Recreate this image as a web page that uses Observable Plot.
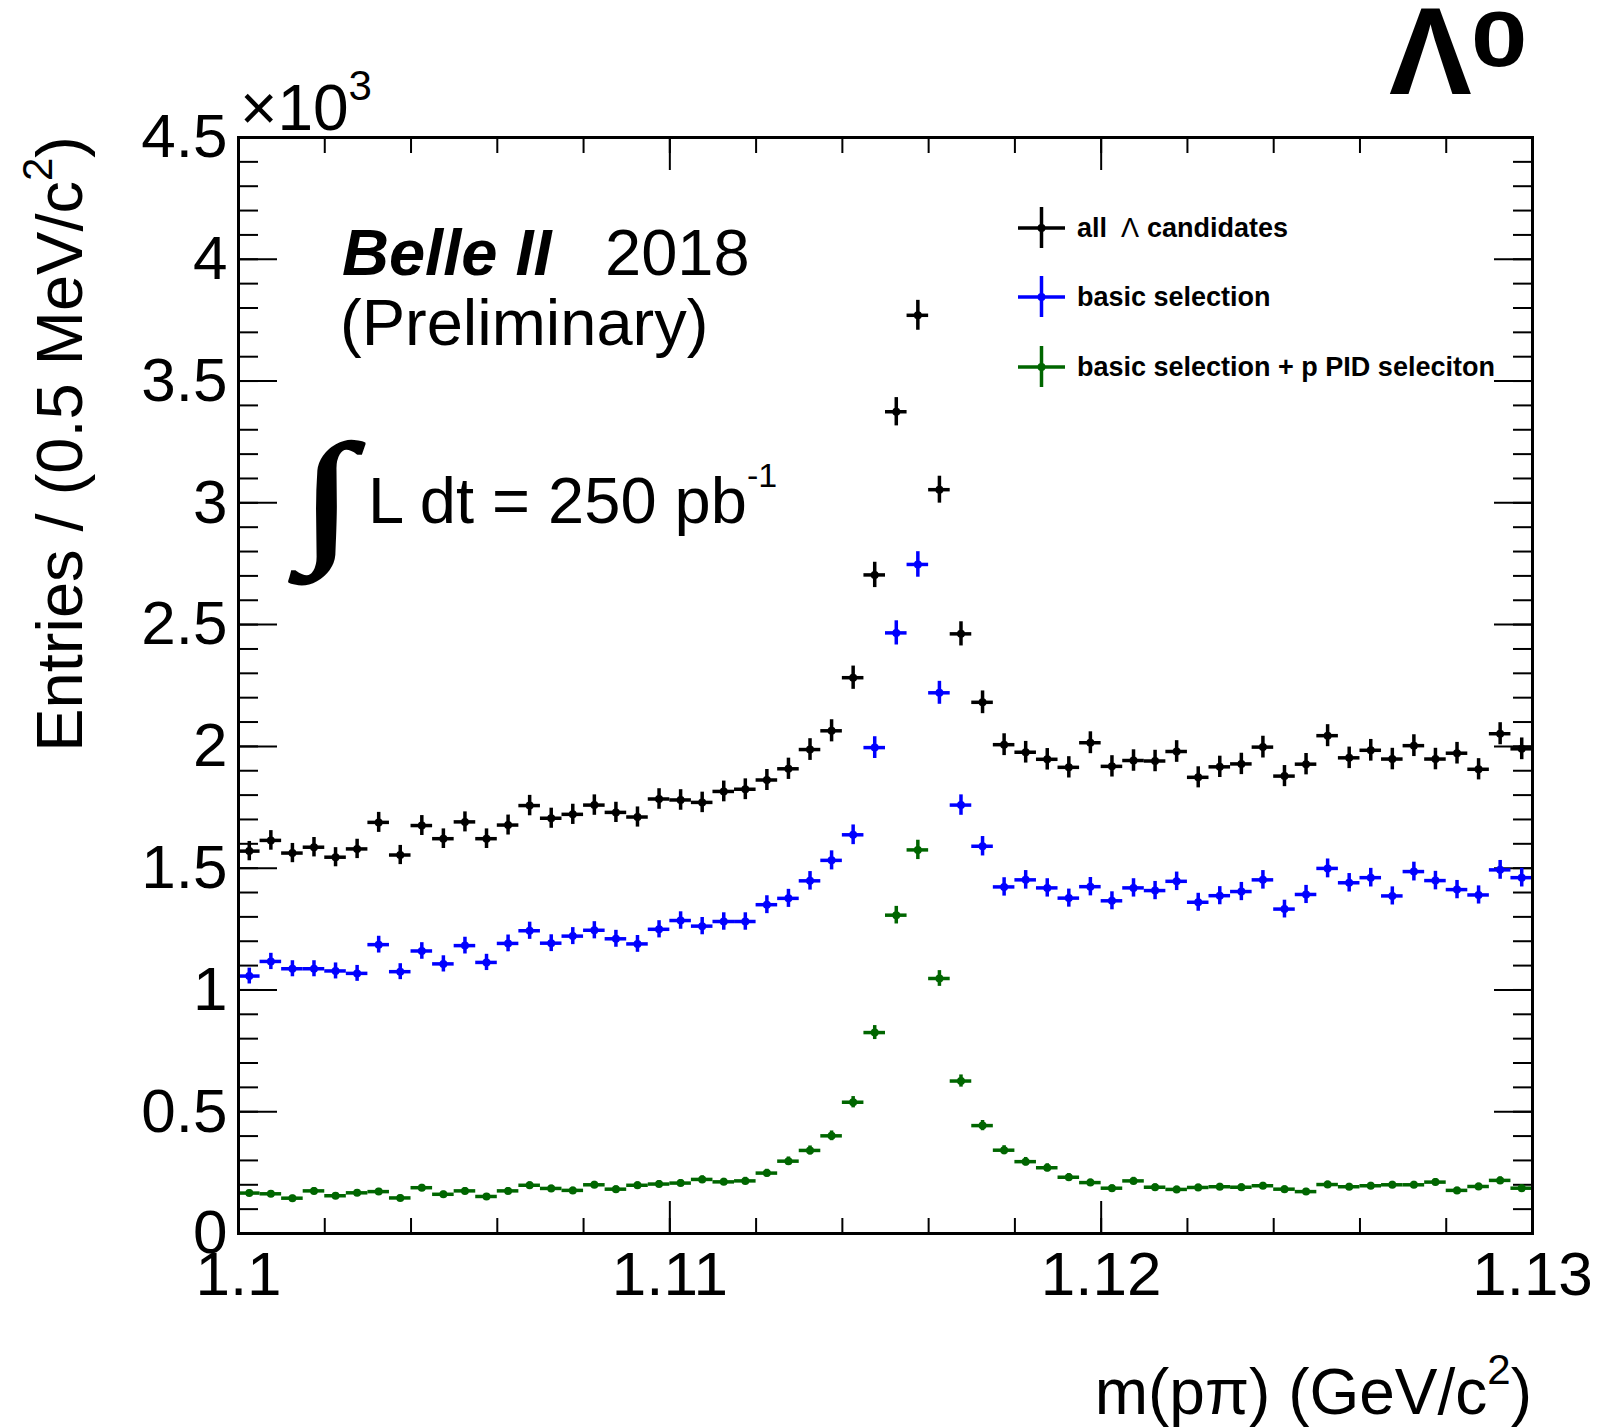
<!DOCTYPE html>
<html><head><meta charset="utf-8">
<script src="https://cdn.jsdelivr.net/npm/d3@7"></script>
<script src="https://cdn.jsdelivr.net/npm/@observablehq/plot@0.6"></script>
<style>
body{margin:0;background:#fff}
svg{display:block}
</style>
</head><body><div id="chart"></div>
<script>
// ---- data ----
const binStart = 1.1, binWidth = 0.0005, nBins = 60;
const binCenters = d3.range(nBins).map(i => +(binStart + (i + 0.5) * binWidth).toFixed(5));
const allCandidates = [1570,1614,1562,1586,1545,1579,1688,1554,1675,1621,1690,1621,1677,1757,1705,1721,1759,1729,1710,1784,1780,1770,1815,1824,1862,1908,1987,2064,2282,2704,3374,3770,3054,2462,2181,2007,1976,1947,1914,2015,1918,1942,1940,1979,1873,1916,1928,1997,1878,1927,2044,1953,1984,1948,2003,1948,1972,1906,2052,1990];
const basicSelection = [1057,1117,1087,1087,1078,1068,1186,1075,1160,1107,1182,1113,1191,1243,1192,1221,1245,1210,1189,1249,1285,1262,1281,1281,1350,1376,1448,1532,1637,1995,2466,2747,2220,1759,1590,1423,1452,1419,1377,1424,1366,1419,1408,1446,1360,1387,1404,1452,1332,1392,1499,1440,1461,1386,1486,1449,1412,1390,1493,1461];
const basicPlusPID = [166,163,145,175,155,167,172,146,188,161,175,152,175,198,185,177,200,182,198,203,207,222,212,216,248,297,341,401,539,825,1307,1575,1047,626,443,342,295,270,231,209,186,216,190,181,189,192,190,196,182,172,201,192,196,200,200,211,177,193,218,186];
const seriesNames = ["all Λ candidates", "basic selection", "basic selection + p PID seleciton"];
const seriesColors = ["#000000", "#0000ff", "#006600"];
const yMajorTicks = [0,500,1000,1500,2000,2500,3000,3500,4000,4500];
const yMinorTicks = d3.range(0, 4501, 100);
const xMajorTicks = [1.1, 1.11, 1.12, 1.13];
const xMinorTicks = d3.range(0, 16).map(i => +(1.1 + i * 0.002).toFixed(4));

const seriesValues = [allCandidates, basicSelection, basicPlusPID];
const rows = [];
seriesValues.forEach((vals, s) => vals.forEach((v, i) => rows.push({
  s: seriesNames[s], x: binCenters[i],
  lo: binCenters[i] - binWidth / 2, hi: binCenters[i] + binWidth / 2,
  v, err: Math.sqrt(v)
})));

const FONT = "'Liberation Sans', Arial, Helvetica, sans-serif";
const W = 1604, H = 1428;

const plot = Plot.plot({
  width: W, height: H,
  marginLeft: 238, marginRight: 72, marginTop: 137, marginBottom: 195,
  style: {fontFamily: FONT, background: "#fff", color: "#000", overflow: "visible"},
  x: {domain: [1.1, 1.13], axis: null},
  y: {domain: [0, 4500], axis: null},
  color: {domain: seriesNames, range: seriesColors},
  marks: [
    // inner ticks
    Plot.axisY({ticks: yMinorTicks, anchor: "left", tickSize: -20, fill: "none", strokeWidth: 2}),
    Plot.axisY({ticks: yMajorTicks, anchor: "left", tickSize: -39, fill: "none", strokeWidth: 2}),
    Plot.axisY({ticks: yMinorTicks, anchor: "right", tickSize: -20, fill: "none", strokeWidth: 2}),
    Plot.axisY({ticks: yMajorTicks, anchor: "right", tickSize: -39, fill: "none", strokeWidth: 2}),
    Plot.axisX({ticks: xMinorTicks, anchor: "bottom", tickSize: -15, fill: "none", strokeWidth: 2}),
    Plot.axisX({ticks: xMajorTicks, anchor: "bottom", tickSize: -32, fill: "none", strokeWidth: 2}),
    Plot.axisX({ticks: xMinorTicks, anchor: "top", tickSize: -15, fill: "none", strokeWidth: 2}),
    Plot.axisX({ticks: xMajorTicks, anchor: "top", tickSize: -32, fill: "none", strokeWidth: 2}),
    // tick labels
    Plot.axisY({ticks: yMajorTicks, anchor: "left", tickSize: 0, tickPadding: 11, fontSize: 62,
      tickFormat: d => String(d / 1000), label: null}),
    Plot.axisX({ticks: xMajorTicks, anchor: "bottom", tickSize: 0, tickPadding: 17, fontSize: 62,
      tickFormat: d => String(+d.toFixed(2)), label: null}),
    // data
    Plot.ruleY(rows, {y: "v", x1: "lo", x2: "hi", stroke: "s", strokeWidth: 3.5}),
    Plot.ruleX(rows, {x: "x", y1: d => d.v - d.err, y2: d => d.v + d.err, stroke: "s", strokeWidth: 3.5}),
    Plot.dot(rows, {x: "x", y: "v", r: 4, fill: "s", stroke: null}),
    Plot.frame({stroke: "#000", strokeWidth: 3})
  ]
});

const svg = d3.select(plot);
function txt(x, y, size, opts = {}) {
  return svg.append("text").attr("x", x).attr("y", y)
    .attr("font-family", opts.family || FONT).attr("font-size", size)
    .attr("font-weight", opts.weight || "normal").attr("font-style", opts.style || "normal")
    .attr("text-anchor", opts.anchor || "start").attr("fill", "#000");
}

// x10^3
const e = txt(240, 130, 64);
e.append("tspan").text("×10");
e.append("tspan").attr("font-size", 42).attr("dy", -30).text("3");

// y title
const yt = svg.append("text").attr("transform", "translate(82,136) rotate(-90)")
  .attr("font-family", FONT).attr("font-size", 65).attr("text-anchor", "end").attr("fill", "#000");
yt.append("tspan").text("Entries / (0.5 MeV/c");
yt.append("tspan").attr("font-size", 42).attr("dy", -30).text("2");
yt.append("tspan").attr("dy", 30).text(")");

// x title
const xt = txt(1532, 1414, 64, {anchor: "end"});
xt.append("tspan").text("m(pπ) (GeV/c");
xt.append("tspan").attr("font-size", 42).attr("dy", -30).text("2");
xt.append("tspan").attr("dy", 30).text(")");

// Belle II annotations
txt(342, 275, 65, {weight: "bold", style: "italic"}).text("Belle II");
txt(605, 275, 65).text("2018");
txt(340, 345, 65).text("(Preliminary)");
svg.append("text").attr("transform", "translate(327,545) scale(1.3,0.97)")
  .attr("text-anchor", "middle")
  .attr("font-family", "'Liberation Serif', 'DejaVu Serif', serif").attr("font-size", 150)
  .attr("fill", "#000").attr("stroke", "#000").attr("stroke-width", 3).text("∫");
const lum = txt(368, 523, 65);
lum.append("tspan").text("L dt = 250 pb");
lum.append("tspan").attr("font-size", 34).attr("dy", -36).text("-1");

// Lambda^0
txt(1389, 94, 124, {weight: "bold"}).text("Λ");
svg.append("text").attr("transform", "translate(1471,66) scale(1.3,1)")
  .attr("text-anchor", "start")
  .attr("font-family", FONT).attr("font-size", 78).attr("font-weight", "bold")
  .attr("fill", "#000").text("0");

// legend
const legRows = [228, 297, 367];
seriesNames.forEach((name, k) => {
  const y = legRows[k], c = seriesColors[k];
  svg.append("line").attr("x1", 1018).attr("x2", 1065).attr("y1", y).attr("y2", y)
    .attr("stroke", c).attr("stroke-width", 3.5);
  svg.append("line").attr("x1", 1041.5).attr("x2", 1041.5).attr("y1", y - 21).attr("y2", y + 20)
    .attr("stroke", c).attr("stroke-width", 3.5);
  svg.append("circle").attr("cx", 1041.5).attr("cy", y).attr("r", 4).attr("fill", c);
  const t = txt(1077, y + 9, 27, {weight: "bold"});
  if (k === 0) {
    t.append("tspan").text("all");
    t.append("tspan").attr("dx", 14).attr("font-weight", "normal").text("Λ");
    t.append("tspan").attr("dx", 8).text("candidates");
  } else {
    t.text(name);
  }
});

document.getElementById("chart").appendChild(plot);
</script>
</body></html>
